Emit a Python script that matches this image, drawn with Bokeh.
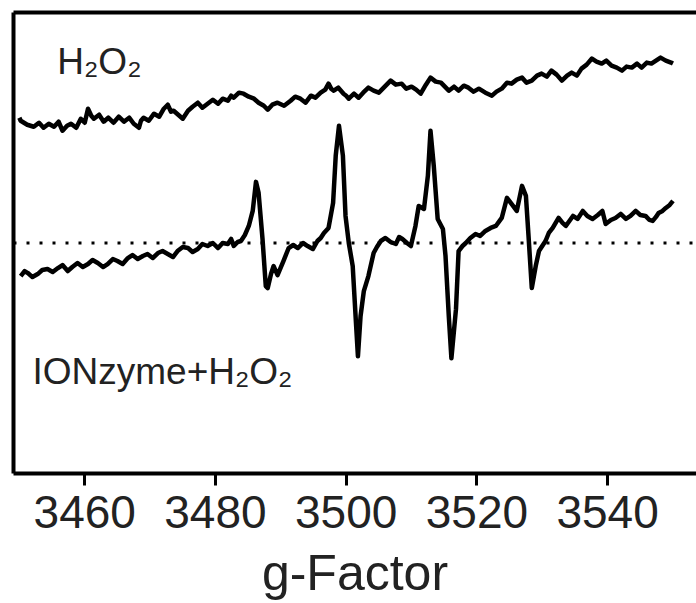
from bokeh.plotting import figure
from bokeh.models import LinearAxis, Span, Range1d, FixedTicker, ColumnDataSource
from bokeh.core.properties import value
from bokeh.embed import file_html
from bokeh.resources import INLINE

# ---- data (field axis in G, intensity in arbitrary units) ----
h2o2_g = [3450.0, 3450.2, 3451.2, 3452.2, 3453.0, 3453.7, 3454.5, 3455.3, 3456.0, 3456.6,
          3457.3, 3457.9, 3458.7, 3459.4, 3460.0, 3460.5, 3461.0, 3461.4, 3462.2, 3462.9,
          3463.6, 3464.4, 3465.2, 3466.0, 3466.8, 3467.5, 3468.3, 3468.6, 3469.0, 3469.8,
          3470.6, 3471.4, 3472.1, 3472.7, 3473.2, 3473.6, 3474.3, 3475.0, 3475.8, 3476.5,
          3477.3, 3478.0, 3478.8, 3479.6, 3480.4, 3481.1, 3481.9, 3482.4, 3482.8, 3483.6,
          3484.3, 3485.1, 3485.9, 3486.6, 3487.4, 3488.0, 3488.7, 3489.5, 3490.5, 3491.5,
          3492.2, 3493.0, 3493.8, 3494.6, 3495.3, 3496.1, 3496.8, 3497.3, 3497.7, 3498.1,
          3498.8, 3499.6, 3500.0, 3500.4, 3501.2, 3501.9, 3502.6, 3503.4, 3504.2, 3505.0,
          3505.9, 3506.8, 3507.6, 3508.5, 3509.2, 3510.0, 3510.7, 3511.4, 3512.2, 3512.9,
          3513.7, 3514.5, 3515.1, 3515.7, 3516.5, 3517.2, 3518.0, 3518.7, 3519.5, 3520.3,
          3521.3, 3522.3, 3523.0, 3523.8, 3524.6, 3525.3, 3526.1, 3526.9, 3527.6, 3528.4,
          3529.2, 3529.9, 3530.7, 3531.4, 3532.2, 3533.0, 3533.8, 3534.5, 3535.3, 3536.0,
          3536.8, 3537.6, 3538.3, 3539.1, 3539.8, 3540.6, 3541.4, 3542.2, 3542.9, 3543.7,
          3544.5, 3545.2, 3546.0, 3546.7, 3547.4, 3548.1, 3548.9, 3549.7, 3550.0]
h2o2_i = [355, 352, 348, 346, 350, 345, 349, 346, 351, 342,
          347, 349, 345, 354, 350, 364, 357, 354, 358, 351,
          355, 350, 356, 351, 355, 349, 345, 352, 355, 352,
          359, 356, 364, 368, 361, 362, 358, 354, 362, 366,
          370, 365, 369, 373, 369, 374, 372, 377, 375, 380,
          379, 376, 374, 370, 367, 363, 368, 370, 367, 372,
          376, 374, 370, 377, 375, 380, 383, 389, 384, 382,
          385, 379, 377, 374, 379, 375, 380, 385, 382, 380,
          386, 392, 388, 389, 384, 386, 383, 379, 388, 395,
          391, 390, 386, 382, 386, 382, 387, 385, 381, 384,
          380, 377, 381, 384, 390, 389, 393, 395, 390, 392,
          397, 399, 396, 402, 398, 392, 397, 400, 397, 404,
          408, 414, 411, 409, 412, 407, 405, 402, 406, 405,
          409, 405, 410, 409, 412, 415, 412, 410, 409]

ion_g = [3450.2, 3450.8, 3451.3, 3452.0, 3452.8, 3453.5, 3454.3, 3455.1, 3455.9, 3456.6,
         3457.4, 3458.1, 3458.9, 3459.7, 3460.5, 3461.2, 3462.0, 3462.8, 3463.5, 3464.3,
         3465.0, 3465.8, 3466.6, 3467.3, 3468.1, 3468.9, 3469.6, 3470.4, 3471.2, 3471.9,
         3472.7, 3473.5, 3474.2, 3475.0, 3475.8, 3476.5, 3477.3, 3478.0, 3478.8, 3479.6,
         3480.4, 3481.1, 3481.9, 3482.4, 3482.8, 3483.4, 3483.9, 3484.5, 3485.1, 3485.7,
         3486.2, 3486.6, 3487.2, 3487.7, 3488.0, 3488.5, 3488.9, 3489.5, 3490.4, 3491.2,
         3491.9, 3492.6, 3493.4, 3494.1, 3494.9, 3495.6, 3496.1, 3496.6, 3497.3, 3498.0,
         3498.4, 3498.9, 3499.5, 3499.9, 3500.4, 3501.0, 3501.5, 3501.8, 3502.2, 3502.7,
         3503.4, 3504.2, 3504.7, 3505.3, 3506.0, 3506.8, 3507.6, 3508.1, 3508.6, 3509.3,
         3509.9, 3510.6, 3511.1, 3511.9, 3512.5, 3512.9, 3513.4, 3514.0, 3514.8, 3515.2,
         3515.7, 3516.1, 3516.8, 3517.2, 3517.8, 3518.3, 3519.0, 3519.8, 3520.5, 3521.3,
         3522.1, 3522.9, 3523.8, 3524.6, 3525.3, 3526.1, 3526.9, 3527.5, 3527.9, 3528.4,
         3529.0, 3529.5, 3530.5, 3531.0, 3531.6, 3532.5, 3533.1, 3533.6, 3534.7, 3535.4,
         3536.2, 3536.9, 3537.7, 3538.5, 3539.2, 3539.7, 3540.5, 3541.2, 3542.0, 3542.8,
         3543.5, 3544.3, 3545.0, 3545.8, 3546.4, 3546.9, 3547.4, 3547.8, 3548.4, 3548.9,
         3549.5, 3550.0]
ion_i = [197, 202, 200, 196, 199, 203, 204, 201, 205, 208,
         202, 206, 210, 206, 209, 213, 210, 206, 209, 214,
         212, 209, 215, 218, 214, 217, 219, 215, 220, 222,
         219, 216, 222, 226, 225, 221, 224, 229, 227, 230,
         225, 230, 229, 234, 227, 231, 232, 238, 247, 262,
         291, 280, 234, 187, 185, 199, 207, 198, 212, 225,
         228, 225, 230, 227, 224, 232, 235, 240, 245, 270,
         317, 347, 317, 257, 230, 207, 150, 117, 157, 182,
         197, 220, 226, 232, 235, 231, 229, 236, 234, 230,
         227, 247, 267, 264, 297, 342, 307, 254, 244, 217,
         157, 115, 164, 222, 227, 230, 235, 239, 237, 242,
         245, 247, 255, 275, 269, 262, 287, 277, 237, 185,
         207, 222, 232, 240, 245, 255, 250, 247, 257, 254,
         262, 257, 254, 258, 262, 249, 253, 255, 259, 254,
         257, 262, 258, 257, 253, 252, 256, 260, 262, 265,
         268, 272]

baseline_level = 230
x_ticks = [3460, 3480, 3500, 3520, 3540]
labels_text = ["H₂O₂", "IONzyme+H₂O₂"]
labels_x = [3455.8, 3452.0]
labels_y = [411, 102]

FONT = "Liberation Sans"

p = figure(width=696, height=603, output_backend="svg", toolbar_location=None,
           x_range=Range1d(3449.1, 3553.6), y_range=Range1d(0, 460),
           min_border_left=13, min_border_top=12, min_border_right=0, min_border_bottom=0)
p.grid.visible = False
p.outline_line_color = None
p.background_fill_color = "white"
p.border_fill_color = "white"

# dotted baseline
p.add_layout(Span(location=baseline_level, dimension="width", line_color="black",
                  line_width=3, line_dash="3 10"))

p.line(h2o2_g, h2o2_i, line_color="black", line_width=4.5, line_join="round")
p.line(ion_g, ion_i, line_color="black", line_width=4.5, line_join="round")

src = ColumnDataSource(dict(x=labels_x, y=labels_y, t=labels_text))
p.text(x="x", y="y", text="t", source=src, text_font=value(FONT), text_font_size="37px",
       text_baseline="alphabetic", text_align="left", text_color="#222222")

# bottom axis
xa = p.xaxis[0]
xa.ticker = FixedTicker(ticks=x_ticks)
xa.axis_line_width = 4
xa.axis_line_color = "black"
xa.major_tick_line_width = 3
xa.major_tick_line_color = "black"
xa.major_tick_out = 12
xa.major_tick_in = 0
xa.minor_tick_line_color = None
xa.major_label_text_font = FONT
xa.major_label_text_font_size = "46px"
xa.major_label_text_color = "#222222"
xa.major_label_standoff = 10
xa.axis_label = "g-Factor"
xa.axis_label_text_font = FONT
xa.axis_label_text_font_size = "50px"
xa.axis_label_text_font_style = "normal"
xa.axis_label_text_color = "#222222"
xa.axis_label_standoff = 14

# left axis: line only
ya = p.yaxis[0]
ya.ticker = FixedTicker(ticks=[])
ya.axis_line_width = 4
ya.axis_line_color = "black"
ya.major_tick_line_color = None
ya.minor_tick_line_color = None
ya.major_label_standoff = 0
ya.major_tick_out = 0
ya.major_tick_in = 0

# top line
ta = LinearAxis(ticker=FixedTicker(ticks=[]), axis_line_width=4, axis_line_color="black",
                major_tick_line_color=None, minor_tick_line_color=None,
                major_label_standoff=0, major_tick_out=0, major_tick_in=0)
p.add_layout(ta, "above")

open("out.html", "w").write(file_html(p, INLINE))
